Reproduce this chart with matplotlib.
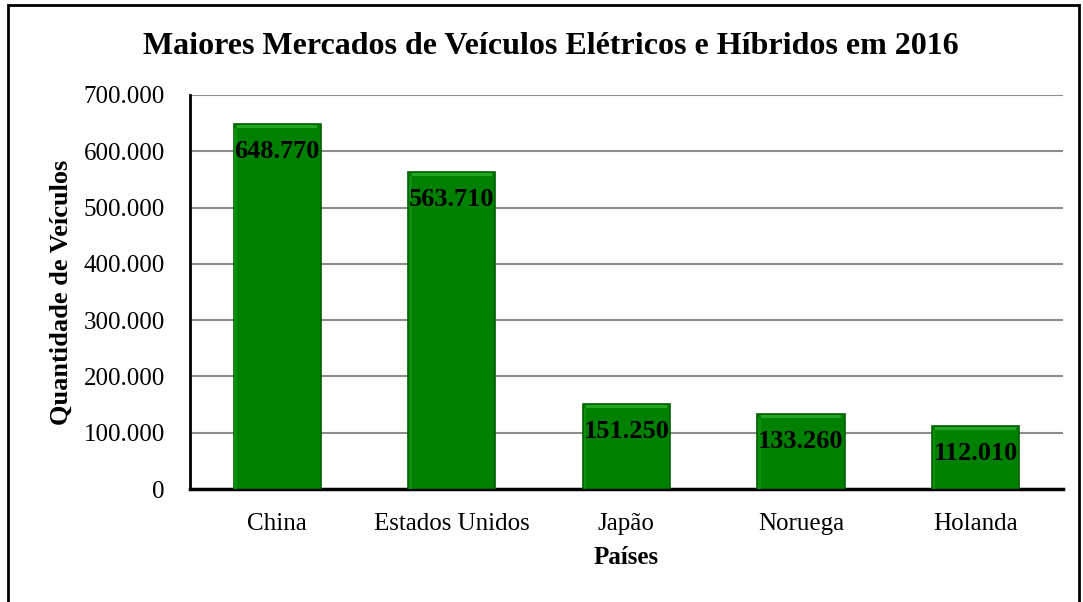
import matplotlib
matplotlib.use('Agg')
import matplotlib.pyplot as plt
from matplotlib.patches import Rectangle
from matplotlib.ticker import FuncFormatter

# dados do gráfico
paises = ['China', 'Estados Unidos', 'Japão', 'Noruega', 'Holanda']
veiculos = [648770, 563710, 151250, 133260, 112010]
rotulos = ['648.770', '563.710', '151.250', '133.260', '112.010']

plt.rcParams['font.family'] = ['Liberation Serif', 'DejaVu Serif']

fig = plt.figure(figsize=(10.83, 6.02), dpi=100)
ax = fig.add_axes([0.1754, 0.1877, 0.806, 0.6545])

# moldura da figura
fig.patches.append(Rectangle((8 / 1083, -0.05), 1071 / 1083, 1.05 - 5 / 602,
                             transform=fig.transFigure, fill=False,
                             edgecolor='black', linewidth=2))

x = range(len(paises))
bars = ax.bar(x, veiculos, width=0.5, color='#008000', edgecolor='#005F00',
              linewidth=1.2, zorder=3)
# brilho no topo e na lateral das barras
for b in bars:
    ax.add_patch(Rectangle((b.get_x() + 0.02, b.get_height() - 8000),
                           b.get_width() - 0.04, 6000, color='#22A622',
                           linewidth=0, zorder=4))
    ax.add_patch(Rectangle((b.get_x() + 0.005, 0), 0.015, b.get_height() - 8000,
                           color='#0C900C', linewidth=0, zorder=4))

for b, r in zip(bars, rotulos):
    ax.annotate(r, (b.get_x() + b.get_width() / 2, b.get_height()),
                xytext=(0, -20), textcoords='offset points',
                ha='center', va='center', fontsize=19, fontweight='bold',
                zorder=5)

ax.set_ylim(0, 700000)
ax.set_xlim(-0.5, len(paises) - 0.5)
ax.set_yticks(range(0, 700001, 100000))
ax.yaxis.set_major_formatter(FuncFormatter(lambda v, p: f'{int(v):,}'.replace(',', '.')))
ax.grid(axis='y', color='#8C8C8C', linewidth=1.5, zorder=0)
ax.set_axisbelow(True)

for s in ['top', 'right']:
    ax.spines[s].set_visible(False)
ax.spines['left'].set_linewidth(2)
ax.spines['bottom'].set_linewidth(2.5)

ax.set_xticks(list(x))
ax.set_xticklabels(paises)
ax.tick_params(axis='y', length=0, pad=18, labelsize=18)
ax.tick_params(axis='x', length=0, pad=17, labelsize=18)

ax.set_xlabel('Países', fontsize=18, fontweight='bold', labelpad=8)
ax.set_ylabel('Quantidade de Veículos', fontsize=19, fontweight='bold', labelpad=8)

fig.text(0.509, 0.922, 'Maiores Mercados de Veículos Elétricos e Híbridos em 2016',
         ha='center', va='center', fontsize=23, fontweight='bold')

fig.savefig('out.png', dpi=100)
